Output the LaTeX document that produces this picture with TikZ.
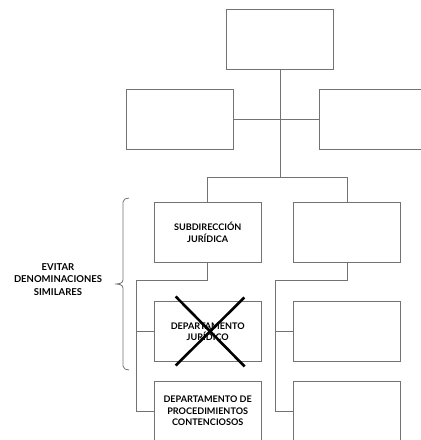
\documentclass[tikz,border=0pt]{standalone}
\usepackage{fontspec}
\setmainfont{Lato}
\tikzset{
  unitbox/.style={draw=black!55,line width=.9pt,minimum width=107pt,minimum height=60pt,inner sep=0pt,
    align=center,font=\bfseries\fontsize{9.1}{11.5}\selectfont},
  link/.style={draw=black!55,line width=.9pt},
}
\begin{document}
\begin{tikzpicture}[x=1pt,y=-1pt]
    \clip (0,0) rectangle (421,440);
    \fill[white] (0,0) rectangle (421,440);
    \node[unitbox] (top) at (280,39.5) {};
    \node[unitbox] (left) at (180,119.5) {};
    \node[unitbox] (right) at (373,119.5) {};
    \node[unitbox] (sub) at (207.7,232.5) {SUBDIRECCIÓN\\JURÍDICA};
    \node[unitbox] (other) at (347,232.5) {};
    \node[unitbox] (dept) at (207.7,331.5) {DEPARTAMENTO\\JURÍDICO};
    \node[unitbox] (proc) at (207.7,411) {DEPARTAMENTO DE\\PROCEDIMIENTOS\\CONTENCIOSOS};
    \node[unitbox] (otherb) at (347,331.5) {};
    \node[unitbox] (otherc) at (347,411) {};
    \coordinate (split) at (280,177.3);
    \coordinate (ljoin) at (136,280);
    \coordinate (rjoin) at (275.7,280);
    \draw[link] (top.south) -- (split);
    \draw[link] (left.east) -- (right.west);
    \draw[link] (sub.north) |- (split) -| (other.north);
    \draw[link] (sub.south) |- (ljoin) |- (proc.west);
    \draw[link] (ljoin |- dept.west) -- (dept.west);
    \draw[link] (other.south) |- (rjoin) |- (otherc.west);
    \draw[link] (rjoin |- otherb.west) -- (otherb.west);
    % tachado
    \draw[line width=2.6pt] (dept.center) ++(-32,-35) -- ++(69,70);
    \draw[line width=2.6pt] (dept.center) ++(36.6,-34) -- ++(-68.6,68);
    % llave
    \draw[link,line width=.8pt] (129,198) to[out=180,in=90] (123,202) -- (123,280)
      to[out=-90,in=0] (115,284) to[out=0,in=90] (123,288) -- (123,366) to[out=-90,in=180] (129,370);
    \node[align=center,font=\bfseries\fontsize{9.5}{12.5}\selectfont] (note) at (58,279.5) {EVITAR\\DENOMINACIONES\\SIMILARES};
\end{tikzpicture}
\end{document}
